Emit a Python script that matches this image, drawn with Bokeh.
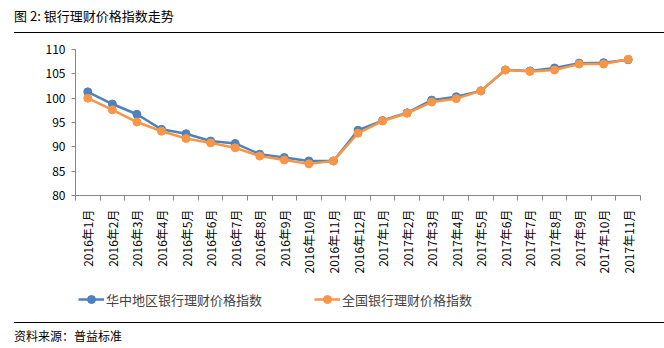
from bokeh.plotting import figure
from bokeh.models import (ColumnDataSource, FixedTicker, Legend, LegendItem, Div, Range1d)
from bokeh.layouts import column
from bokeh.embed import file_html
from bokeh.resources import INLINE

months = ["2016年1月", "2016年2月", "2016年3月", "2016年4月", "2016年5月", "2016年6月",
          "2016年7月", "2016年8月", "2016年9月", "2016年10月", "2016年11月", "2016年12月",
          "2017年1月", "2017年2月", "2017年3月", "2017年4月", "2017年5月", "2017年6月",
          "2017年7月", "2017年8月", "2017年9月", "2017年10月", "2017年11月"]
central_china = [101.3, 98.8, 96.7, 93.6, 92.7, 91.2, 90.7, 88.5, 87.8, 87.1, 87.1, 93.4,
                 95.4, 97.0, 99.6, 100.3, 101.5, 105.8, 105.6, 106.2, 107.2, 107.3, 107.9]
national = [100.0, 97.6, 95.1, 93.2, 91.7, 90.8, 89.8, 88.1, 87.3, 86.5, 87.1, 92.8,
            95.3, 96.9, 99.2, 99.9, 101.5, 105.8, 105.5, 105.8, 107.0, 107.0, 108.0]
y_ticks = [80, 85, 90, 95, 100, 105, 110]
name_a = "华中地区银行理财价格指数"
name_b = "全国银行理财价格指数"
title_text = "图 2: 银行理财价格指数走势"
source_text = "资料来源：普益标准"

FONT = "Noto Sans CJK SC"
BLUE = "#4F81BD"
ORANGE = "#F79646"
AXIS = "#868686"

xs = list(range(len(months)))
src = ColumnDataSource(dict(x=xs, a=central_china, b=national))

p = figure(frame_width=565, frame_height=146, output_backend="svg", toolbar_location=None,
           x_range=Range1d(-0.5, len(months) - 0.5), y_range=Range1d(80, 110),
           min_border_left=75, min_border_right=24, min_border_top=16, min_border_bottom=90)
p.outline_line_color = None
p.xgrid.visible = False
p.ygrid.visible = False

p.line("x", "a", source=src, line_color=BLUE, line_width=2.5)
p.scatter("x", "a", source=src, size=8, fill_color=BLUE, line_color=BLUE)
p.line("x", "b", source=src, line_color=ORANGE, line_width=2.5)
p.scatter("x", "b", source=src, size=8, fill_color=ORANGE, line_color=ORANGE)

# x axis
xa = p.xaxis[0]
xa.ticker = FixedTicker(ticks=xs, minor_ticks=[i - 0.5 for i in range(len(months) + 1)])
xa.major_label_overrides = {i: m for i, m in enumerate(months)}
xa.major_label_orientation = 3.14159265 / 2
xa.major_tick_line_color = None
xa.minor_tick_line_color = AXIS
xa.minor_tick_in = 0
xa.minor_tick_out = 5
xa.axis_line_color = AXIS
xa.major_label_text_font = FONT
xa.major_label_text_font_size = "12px"
xa.major_label_text_color = "#000000"
xa.major_label_standoff = 8

# y axis
ya = p.yaxis[0]
ya.ticker = FixedTicker(ticks=y_ticks)
ya.major_tick_in = 0
ya.major_tick_out = 4
ya.major_tick_line_color = AXIS
ya.minor_tick_line_color = None
ya.axis_line_color = AXIS
ya.major_label_text_font = FONT
ya.major_label_text_font_size = "12px"
ya.major_label_text_color = "#000000"
ya.major_label_standoff = 6

# legend strip: same series drawn out of view, only the legend shows
lg = figure(width=664, height=37, output_backend="svg", toolbar_location=None,
            x_axis_location=None, y_axis_location=None, min_border=0,
            x_range=Range1d(-0.5, len(months) - 0.5), y_range=Range1d(1000, 1001))
lg.outline_line_color = None
lg.xgrid.visible = False
lg.ygrid.visible = False
ga = lg.line("x", "a", source=src, line_color=BLUE, line_width=2.5)
gsa = lg.scatter("x", "a", source=src, size=7, fill_color=BLUE, line_color=BLUE)
gb = lg.line("x", "b", source=src, line_color=ORANGE, line_width=2.5)
gsb = lg.scatter("x", "b", source=src, size=7, fill_color=ORANGE, line_color=ORANGE)
legend = Legend(items=[LegendItem(label=name_a, renderers=[ga, gsa]),
                       LegendItem(label=name_b, renderers=[gb, gsb])],
                orientation="horizontal", location=(3, 13),
                label_text_font=FONT, label_text_font_size="13px",
                glyph_width=26, label_standoff=2, spacing=52,
                padding=5, margin=0, border_line_color=None,
                background_fill_alpha=0)
lg.add_layout(legend, "center")

title_div = Div(text=title_text, width=650, height=33, margin=(0, 0, 0, 14),
                styles={"font-family": FONT, "font-size": "13px", "color": "#000",
                        "border-bottom": "1px solid #000", "box-sizing": "border-box",
                        "padding-top": "8px", "line-height": "16px"})
source_div = Div(text=source_text, width=650, height=26, margin=(0, 0, 0, 14),
                 styles={"font-family": FONT, "font-size": "12px", "color": "#000",
                         "border-top": "1px solid #000", "box-sizing": "border-box",
                         "padding-top": "5px", "line-height": "16px"})

layout = column(title_div, p, lg, source_div, spacing=0, margin=0)
open("out.html", "w").write(file_html(layout, INLINE))
